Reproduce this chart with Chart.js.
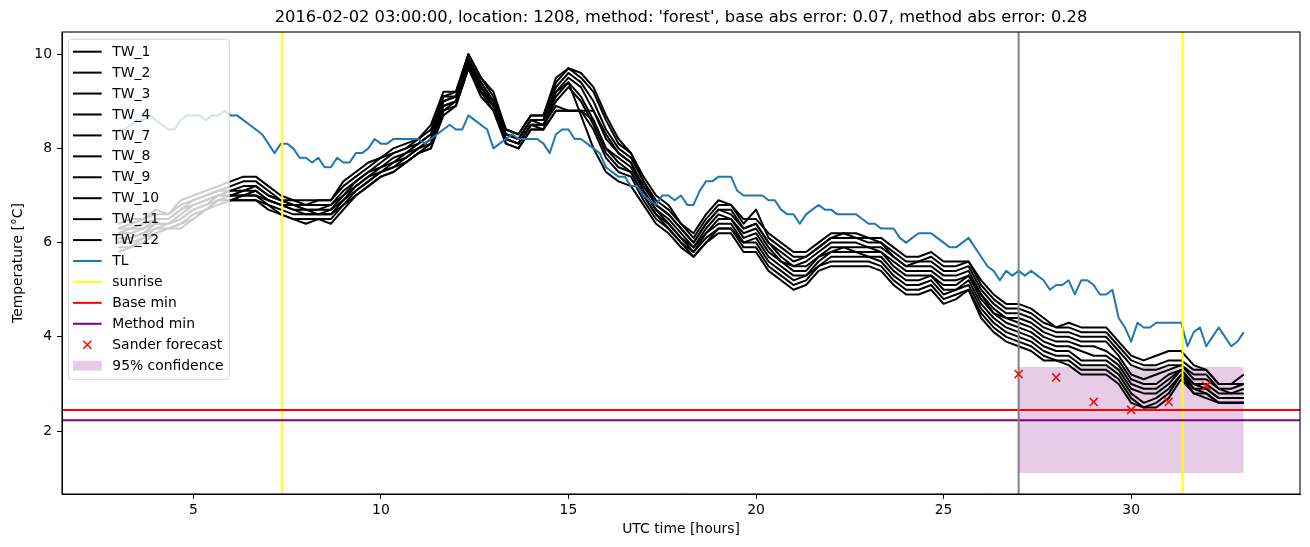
<!DOCTYPE html>
<html><head><meta charset="utf-8">
<script src="https://cdn.jsdelivr.net/npm/chart.js@4.4.0/dist/chart.umd.min.js"></script>
<style>html,body{margin:0;padding:0;background:#fff;}canvas{display:block;}</style>
</head><body>
<canvas id="c" width="1310" height="547" style="width:1310px;height:547px"></canvas>
<script>
// ---------- data ----------
const titleText = "2016-02-02 03:00:00, location: 1208, method: 'forest', base abs error: 0.07, method abs error: 0.28";
const twNames = ['TW_1','TW_2','TW_3','TW_4','TW_7','TW_8','TW_9','TW_10','TW_11','TW_12'];
const twStart = 3, twStep = 1/3;   // 20-minute samples
const tw1 = [6.4,6.5,6.5,6.7,6.6,6.9,7.0,7.1,7.2,7.3, 7.4,7.4,7.2,7.0,6.9,6.9,6.9,6.9,7.3,7.5, 7.7,7.8,8.0,8.1,8.2,8.5,9.2,9.2,10.0,9.5, 9.2,8.4,8.3,8.7,8.7,9.5,9.7,9.6,9.3,8.7, 8.2,7.9,7.4,7.0,6.8,6.4,6.2,6.6,6.9,6.8, 6.5,6.5,6.2,6.0,5.8,5.8,6.0,6.2,6.2,6.2, 6.1,6.1,5.9,5.7,5.7,5.8,5.6,5.6,5.6,5.2, 4.9,4.7,4.7,4.6,4.4,4.2,4.3,4.2,4.2,4.2, 3.9,3.6,3.5,3.6,3.7,3.7,3.4,3.3,3.0,3.0, 3.2];
const tw2 = [6.3,6.4,6.5,6.6,6.6,6.8,6.9,7.0,7.1,7.2, 7.3,7.3,7.1,6.9,6.9,6.8,6.9,6.9,7.2,7.4, 7.6,7.8,7.9,8.0,8.2,8.4,9.1,9.2,10.0,9.5, 9.1,8.4,8.3,8.7,8.7,9.4,9.7,9.5,9.2,8.6, 8.1,7.9,7.3,6.9,6.7,6.4,6.1,6.5,6.8,6.8, 6.4,6.7,6.1,5.9,5.7,5.7,5.9,6.1,6.2,6.1, 6.1,6.0,5.8,5.6,5.6,5.7,5.5,5.5,5.6,5.1, 4.8,4.6,4.6,4.5,4.3,4.2,4.2,4.1,4.1,4.1, 3.8,3.5,3.4,3.4,3.5,3.5,3.3,3.3,3.0,3.0, 3.0];
const tw3 = [6.3,6.3,6.4,6.5,6.5,6.7,6.9,7.0,7.1,7.1, 7.2,7.2,7.0,6.9,6.8,6.8,6.8,6.8,7.1,7.3, 7.5,7.7,7.9,8.0,8.1,8.3,9.1,9.1,9.9,9.4, 9.0,8.3,8.2,8.6,8.6,9.3,9.6,9.4,9.0,8.4, 8.0,7.8,7.3,6.8,6.6,6.3,6.0,6.4,6.7,6.7, 6.3,6.4,6.0,5.8,5.6,5.7,5.9,6.1,6.1,6.1, 6.0,6.0,5.7,5.5,5.6,5.6,5.4,5.4,5.5,5.0, 4.7,4.5,4.5,4.4,4.2,4.1,4.1,4.0,4.0,4.0, 3.7,3.4,3.3,3.3,3.4,3.4,3.2,3.2,2.9,2.9, 3.0];
const tw4 = [6.2,6.3,6.3,6.5,6.5,6.7,6.8,6.9,7.0,7.1, 7.1,7.2,7.0,6.9,6.8,6.7,6.7,6.8,7.0,7.3, 7.5,7.6,7.8,7.9,8.1,8.3,9.0,9.1,9.9,9.4, 9.0,8.3,8.2,8.6,8.6,9.2,9.5,9.3,8.8,8.2, 7.9,7.7,7.2,6.8,6.6,6.3,6.0,6.4,6.7,6.6, 6.3,6.4,6.0,5.7,5.5,5.6,5.8,6.0,6.0,6.0, 5.9,5.9,5.7,5.5,5.5,5.5,5.3,5.3,5.4,4.9, 4.6,4.4,4.4,4.3,4.1,4.0,4.0,3.9,3.9,3.9, 3.6,3.2,3.1,3.2,3.3,3.4,3.1,3.1,2.9,2.8, 2.9];
const tw7 = [6.2,6.2,6.3,6.4,6.4,6.6,6.8,6.9,7.0,7.0, 7.1,7.1,6.9,6.8,6.8,6.7,6.7,6.7,7.0,7.2, 7.4,7.6,7.7,7.9,8.0,8.2,9.0,9.1,9.9,9.3, 9.0,8.3,8.2,8.6,8.5,9.1,9.4,9.1,8.6,8.0, 7.8,7.6,7.1,6.7,6.5,6.2,5.9,6.3,6.6,6.5, 6.2,6.3,5.9,5.6,5.5,5.5,5.7,5.9,5.9,5.9, 5.9,5.8,5.6,5.4,5.4,5.4,5.2,5.2,5.3,4.9, 4.5,4.4,4.3,4.2,4.0,3.9,3.9,3.8,3.8,3.7, 3.5,3.1,3.0,3.0,3.2,3.3,3.0,3.0,2.8,2.8, 2.8];
const tw8 = [6.1,6.1,6.2,6.4,6.4,6.5,6.7,6.8,7.0,7.0, 7.0,7.1,6.9,6.8,6.7,6.7,6.6,6.7,6.9,7.2, 7.4,7.5,7.7,7.8,8.0,8.2,8.9,9.0,9.8,9.3, 8.9,8.2,8.1,8.5,8.5,9.0,9.3,9.0,8.5,7.9, 7.6,7.5,7.0,6.6,6.4,6.1,5.9,6.2,6.5,6.5, 6.1,6.2,5.8,5.6,5.4,5.4,5.7,5.8,5.9,5.8, 5.8,5.8,5.5,5.3,5.3,5.3,5.1,5.1,5.3,4.8, 4.5,4.3,4.2,4.1,3.9,3.8,3.8,3.7,3.6,3.6, 3.4,3.0,2.9,2.9,3.1,3.3,3.0,2.9,2.7,2.7, 2.7];
const tw9 = [6.0,6.1,6.2,6.3,6.4,6.5,6.7,6.8,6.9,7.0, 7.0,7.0,6.9,6.8,6.7,6.6,6.6,6.6,6.9,7.1, 7.3,7.5,7.6,7.8,8.0,8.1,8.9,9.0,9.8,9.3, 8.9,8.2,8.1,8.5,8.5,8.9,8.8,8.8,8.8,8.3, 7.9,7.7,7.1,6.7,6.4,6.1,5.8,6.2,6.4,6.4, 6.0,6.1,5.7,5.5,5.3,5.3,5.6,5.8,5.8,5.8, 5.7,5.7,5.4,5.2,5.2,5.3,5.0,5.0,5.2,4.7, 4.4,4.2,4.1,4.0,3.8,3.7,3.7,3.5,3.5,3.5, 3.3,2.9,2.8,2.8,3.0,3.3,2.9,2.9,2.7,2.7, 2.7];
const tw10 = [6.0,6.0,6.1,6.3,6.3,6.4,6.6,6.7,6.9,6.9, 7.0,7.0,6.8,6.7,6.6,6.6,6.6,6.6,6.8,7.1, 7.3,7.5,7.6,7.7,7.9,8.1,8.8,9.0,9.8,9.2, 8.9,8.2,8.1,8.5,8.4,8.8,8.8,8.8,8.6,8.0, 7.7,7.5,7.0,6.6,6.3,6.0,5.8,6.1,6.3,6.3, 6.0,6.0,5.6,5.4,5.2,5.3,5.5,5.7,5.7,5.7, 5.7,5.6,5.3,5.1,5.1,5.2,4.9,5.0,5.1,4.6, 4.3,4.1,4.0,3.9,3.7,3.6,3.6,3.4,3.4,3.4, 3.2,2.8,2.6,2.7,2.9,3.2,2.9,2.8,2.6,2.6, 2.6];
const tw11 = [5.9,5.9,6.1,6.2,6.3,6.4,6.5,6.7,6.9,6.9, 6.9,6.9,6.8,6.6,6.5,6.5,6.5,6.5,6.8,7.0, 7.2,7.4,7.5,7.7,7.9,8.0,8.8,8.9,9.7,9.2, 8.8,8.1,8.0,8.4,8.4,8.8,8.8,8.8,8.4,7.8, 7.5,7.4,6.9,6.5,6.3,6.0,5.7,6.0,6.3,6.3, 5.9,5.9,5.5,5.3,5.1,5.2,5.5,5.6,5.6,5.6, 5.6,5.5,5.2,5.0,5.0,5.1,4.8,4.9,5.0,4.5, 4.2,4.0,3.9,3.8,3.6,3.5,3.5,3.3,3.3,3.3, 3.1,2.7,2.5,2.6,2.8,3.2,2.8,2.8,2.6,2.6, 2.6];
const tw12 = [5.8,5.9,6.0,6.2,6.3,6.3,6.5,6.7,6.8,6.9, 6.9,6.9,6.7,6.6,6.5,6.4,6.5,6.4,6.7,7.0, 7.2,7.4,7.5,7.7,7.9,8.0,8.7,8.9,9.7,9.1, 8.8,8.1,8.0,8.4,8.4,9.2,9.4,8.7,8.0,7.5, 7.3,7.2,6.8,6.4,6.2,5.9,5.7,6.0,6.2,6.2, 5.8,5.8,5.4,5.2,5.0,5.1,5.4,5.5,5.5,5.5, 5.5,5.4,5.1,4.9,4.9,5.0,4.7,4.8,5.0,4.4, 4.1,3.9,3.8,3.7,3.5,3.5,3.4,3.2,3.2,3.2, 3.0,2.6,2.5,2.5,2.7,3.1,2.8,2.7,2.6,2.6, 2.6];
const twSeries = [tw1,tw2,tw3,tw4,tw7,tw8,tw9,tw10,tw11,tw12];
const tlStart = 3, tlStep = 1/6;   // 10-minute samples
const tlValues = [8.4,8.4,8.5,8.6,8.6,8.7, 8.6,8.5,8.4,8.4,8.6,8.7, 8.7,8.7,8.6,8.7,8.7,8.8, 8.7,8.7,8.6,8.5,8.4,8.3,
  8.1,7.9,8.1,8.1,8.0,7.8, 7.8,7.7,7.8,7.6,7.6,7.8, 7.7,7.7,7.9,7.9,8.0,8.2, 8.1,8.1,8.2,8.2,8.2,8.2,
  8.2,8.1,8.2,8.3,8.4,8.5, 8.4,8.4,8.7,8.6,8.5,8.4, 8.0,8.1,8.2,8.3,8.2,8.2, 8.2,8.2,8.1,7.9,8.3,8.4,
  8.4,8.2,8.2,8.1,8.0,7.9, 7.6,7.5,7.4,7.4,7.2,7.2, 7.0,6.9,6.8,7.0,7.0,6.9, 7.0,6.8,6.8,7.1,7.3,7.3,
  7.4,7.4,7.4,7.1,7.0,7.0, 7.0,7.0,6.9,6.9,6.7,6.6, 6.6,6.4,6.6,6.7,6.8,6.7, 6.7,6.6,6.6,6.6,6.6,6.5,
  6.4,6.4,6.3,6.3,6.3,6.1, 6.0,6.1,6.2,6.2,6.2,6.1, 6.0,5.9,5.9,6.0,6.1,5.9, 5.7,5.5,5.4,5.2,5.4,5.3,
  5.4,5.3,5.4,5.3,5.2,5.0, 5.1,5.1,5.2,4.9,5.2,5.2, 5.1,4.9,4.9,5.0,4.4,4.2, 3.9,4.3,4.2,4.2,4.3,4.3,
  4.3,4.3,4.3,3.8,4.1,4.2, 3.8,4.0,4.2,4.0,3.8,3.9, 4.1];
const sunriseHours = [7.37, 31.37];
const forecastHour = 27;
const baseMin = 2.45;
const methodMin = 2.23;
const sanderHours = [27, 28, 29, 30, 31, 32];
const sanderValues = [3.21, 3.14, 2.62, 2.45, 2.62, 2.96];
const confHours = [27, 33];
const confLow = 1.11, confHigh = 3.36;
const xTickValues = [5, 10, 15, 20, 25, 30];
const yTickValues = [2, 4, 6, 8, 10];
const xRange = [1.5, 34.5];
const yRange = [0.665, 10.47];

// ---------- datasets ----------
const FONT = 'DejaVu Sans';
const FS = 13.9;
const far = 1000;
const datasets = [];
twSeries.forEach((vals, i) => {
  datasets.push({
    label: twNames[i], legendRank: i, legendKind: 'line',
    data: vals.map((v, j) => ({x: twStart + j * twStep, y: v})),
    borderColor: '#000000', borderWidth: 2, pointRadius: 0, tension: 0,
    borderJoinStyle: 'round', order: 50 - i, fill: false
  });
});
datasets.push({label: 'TL', legendRank: 10, legendKind: 'line',
  data: tlValues.map((v, j) => ({x: tlStart + j * tlStep, y: v})),
  borderColor: '#1f77b4', borderWidth: 2, pointRadius: 0, tension: 0, borderJoinStyle: 'round', order: 30, fill: false});
sunriseHours.forEach((h, i) => {
  datasets.push({label: 'sunrise', legendRank: i === 0 ? 11 : undefined, legendKind: 'line',
    data: [{x: h, y: -far}, {x: h, y: far}],
    borderColor: '#ffff00', borderWidth: 2, pointRadius: 0, order: 20 + i, fill: false});
});
datasets.push({label: 'Base min', legendRank: 12, legendKind: 'line',
  data: [{x: -far, y: baseMin}, {x: far, y: baseMin}],
  borderColor: '#ff0000', borderWidth: 2, pointRadius: 0, order: 15, fill: false});
datasets.push({label: 'Method min', legendRank: 13, legendKind: 'line',
  data: [{x: -far, y: methodMin}, {x: far, y: methodMin}],
  borderColor: '#800080', borderWidth: 2, pointRadius: 0, order: 14, fill: false});
datasets.push({label: 'forecast time',
  data: [{x: forecastHour, y: -far}, {x: forecastHour, y: far}],
  borderColor: '#808080', borderWidth: 2, pointRadius: 0, order: 12, fill: false});
datasets.push({label: 'Sander forecast', legendRank: 14, legendKind: 'marker',
  data: sanderHours.map((h, i) => ({x: h, y: sanderValues[i]})),
  showLine: false, pointStyle: 'crossRot', pointRadius: 5.7, pointBorderWidth: 1.5,
  borderColor: '#ff0000', backgroundColor: '#ff0000', pointBorderColor: '#ff0000', order: 10, fill: false});
datasets.push({label: '95% confidence', legendRank: 15, legendKind: 'patch',
  data: confHours.map(h => ({x: h, y: confHigh})),
  borderWidth: 0, borderColor: 'rgba(0,0,0,0)', pointRadius: 0,
  backgroundColor: 'rgba(128,0,128,0.2)', fill: {value: confLow}, order: 100});

// ---------- plugins ----------
const framePlugin = {
  id: 'frame',
  afterDatasetsDraw(chart) {
    const {ctx, chartArea: a} = chart;
    ctx.save();
    ctx.strokeStyle = '#000'; ctx.lineWidth = 1.1;
    ctx.strokeRect(a.left, a.top, a.right - a.left, a.bottom - a.top);
    ctx.restore();
  }
};
const legendPlugin = {
  id: 'mplLegend',
  afterDraw(chart) {
    const ctx = chart.ctx;
    const items = chart.data.datasets.filter(d => d.legendRank !== undefined).sort((a, b) => a.legendRank - b.legendRank);
    const x0 = 68.3, y0 = 39.3, w = 161, h = 340, r = 3;
    ctx.save();
    ctx.beginPath();
    ctx.moveTo(x0 + r, y0); ctx.lineTo(x0 + w - r, y0); ctx.arcTo(x0 + w, y0, x0 + w, y0 + r, r);
    ctx.lineTo(x0 + w, y0 + h - r); ctx.arcTo(x0 + w, y0 + h, x0 + w - r, y0 + h, r);
    ctx.lineTo(x0 + r, y0 + h); ctx.arcTo(x0, y0 + h, x0, y0 + h - r, r);
    ctx.lineTo(x0, y0 + r); ctx.arcTo(x0, y0, x0 + r, y0, r); ctx.closePath();
    ctx.fillStyle = 'rgba(255,255,255,0.8)'; ctx.fill();
    ctx.strokeStyle = 'rgba(204,204,204,0.8)'; ctx.lineWidth = 1; ctx.stroke();
    const hx0 = 73, hx1 = 101.7, tx = 112.3, row0 = 51.7, step = 20.93;
    ctx.font = FS + 'px "' + FONT + '"';
    ctx.textBaseline = 'middle'; ctx.textAlign = 'left';
    items.forEach((d, i) => {
      const y = row0 + i * step;
      if (d.legendKind === 'line') {
        ctx.strokeStyle = d.borderColor; ctx.lineWidth = 2;
        ctx.beginPath(); ctx.moveTo(hx0, y); ctx.lineTo(hx1, y); ctx.stroke();
      } else if (d.legendKind === 'marker') {
        const cx = (hx0 + hx1) / 2, s = 4;
        ctx.strokeStyle = d.borderColor; ctx.lineWidth = 1.5;
        ctx.beginPath(); ctx.moveTo(cx - s, y - s); ctx.lineTo(cx + s, y + s);
        ctx.moveTo(cx - s, y + s); ctx.lineTo(cx + s, y - s); ctx.stroke();
      } else if (d.legendKind === 'patch') {
        ctx.fillStyle = d.backgroundColor;
        ctx.fillRect(hx0, y - 4.9, hx1 - hx0, 9.8);
      }
      ctx.fillStyle = '#000';
      ctx.fillText(d.label, tx, y + 0.5);
    });
    ctx.restore();
  }
};

// ---------- chart ----------
const axisCommon = {
  type: 'linear',
  grid: {display: true, drawOnChartArea: false, drawTicks: true, tickLength: 5, color: '#000', lineWidth: 1},
  border: {display: true, color: '#000', width: 1},
  ticks: {color: '#000', font: {family: FONT, size: FS}, autoSkip: false, maxRotation: 0, includeBounds: false}
};
new Chart(document.getElementById('c'), {
  type: 'line',
  data: {datasets},
  options: {
    responsive: false, animation: false, events: [],
    layout: {padding: {left: 0, right: 10, top: 0, bottom: 0}},
    plugins: {
      legend: {display: false}, tooltip: {enabled: false},
      title: {display: true, fullSize: false, text: titleText, color: '#000',
        font: {family: FONT, size: 16.3, weight: 'normal', lineHeight: 1.227},
        padding: {top: 7.5, bottom: 4.5}}
    },
    scales: {
      x: Object.assign({}, axisCommon, {
        min: xRange[0], max: xRange[1],
        ticks: Object.assign({}, axisCommon.ticks, {padding: 3, callback: v => String(v)}),
        afterBuildTicks: s => { s.ticks = xTickValues.map(v => ({value: v})); },
        afterFit: s => { s.height = 53; },
        title: {display: true, text: 'UTC time [hours]', color: '#000', font: {family: FONT, size: FS, lineHeight: 1.2}, padding: {top: 0, bottom: 9.7}}
      }),
      y: Object.assign({}, axisCommon, {
        min: yRange[0], max: yRange[1],
        ticks: Object.assign({}, axisCommon.ticks, {padding: 5, callback: v => String(v)}),
        afterBuildTicks: s => { s.ticks = yTickValues.map(v => ({value: v})); },
        afterFit: s => { s.width = 62; },
        title: {display: true, text: 'Temperature [°C]', color: '#000', font: {family: FONT, size: FS, lineHeight: 1.2}, padding: {top: 9.7, bottom: 0}}
      })
    }
  },
  plugins: [framePlugin, legendPlugin]
});
</script>
</body></html>
